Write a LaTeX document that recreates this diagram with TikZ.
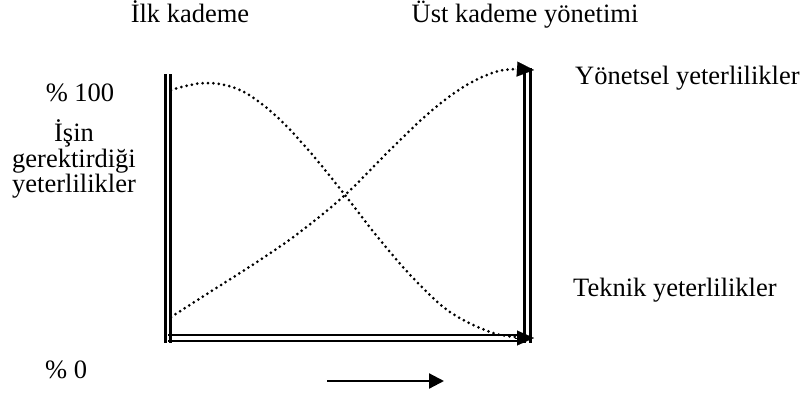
\documentclass[tikz,border=0pt]{standalone}
\usepackage{fontspec}
\setmainfont{Liberation Serif}
\usetikzlibrary{arrows.meta}
\begin{document}
\begin{tikzpicture}[x=1pt,y=-1pt,
  axisline/.style={line width=2.7pt},
  dotcurve/.style={line width=3pt, line cap=round, dash pattern=on 0pt off 5.4pt},
  tip/.style={-{Triangle[length=17pt,width=15pt]}, line width=0.1pt},
  lbl/.style={font=\fontsize{26.5}{25.5}\selectfont, inner sep=0pt}]
\useasboundingbox (0,0) rectangle (801,394);
% axes
\draw[axisline] (165.3,74) -- (165.3,343);
\draw[axisline] (170.5,74) -- (170.5,343);
\draw[axisline] (168,335) -- (520,335);
\draw[axisline] (168,341) -- (520,341);
\draw[axisline] (524.8,68) -- (524.8,343);
\draw[axisline] (530.3,68) -- (530.3,343);
% curves
\draw[dotcurve] plot[smooth, tension=0.6] coordinates {(171,317) (210,292) (260,260) (300,232) (345,195) (390,150) (430,112) (465,86) (495,72) (516,69)};
\draw[dotcurve] plot[smooth, tension=0.6] coordinates {(171,90) (205,83) (240,90) (275,115) (310,152) (345,195) (380,240) (415,280) (450,312) (490,332) (516,337)};
\coordinate (ta) at (515,69);
\coordinate (tb) at (534,70);
\draw[tip] (ta) -- (tb);
\coordinate (ba) at (515,338);
\coordinate (bb) at (534,338);
\draw[tip] (ba) -- (bb);
% bottom arrow
\coordinate (aa) at (327,381);
\coordinate (ab) at (444,381);
\draw[line width=2.2pt, -{Triangle[length=15pt,width=15pt]}] (aa) -- (ab);
% labels
\node[lbl, anchor=base] (ilk) at (190,22) {İlk kademe};
\node[lbl, anchor=base] (ust) at (525,22) {Üst kademe yönetimi};
\node[lbl] (p100) at (80,93) {\% 100};
\node[lbl, align=center] (isin) at (74,159) {İşin\\gerektirdiği\\yeterlilikler};
\node[lbl, anchor=west] (yon) at (575,78) {Yönetsel yeterlilikler};
\node[lbl, anchor=west] (tek) at (573,290) {Teknik yeterlilikler};
\node[lbl, anchor=west] (p0) at (45,370) {\% 0};
\end{tikzpicture}
\end{document}
